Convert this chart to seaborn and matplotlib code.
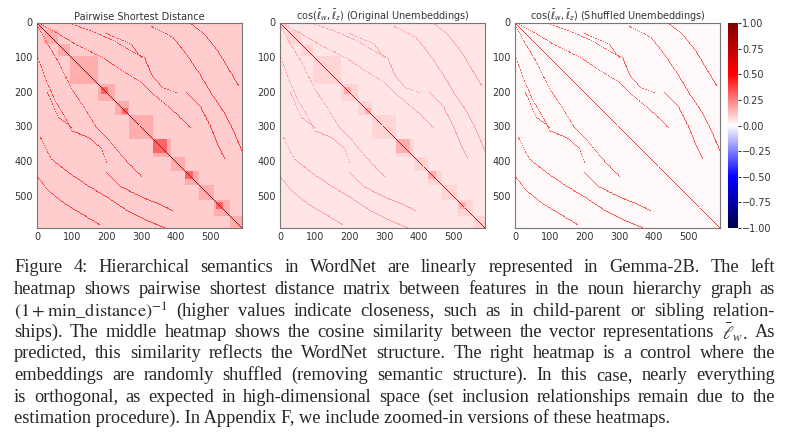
import numpy as np
import matplotlib
matplotlib.use("Agg")
import matplotlib.pyplot as plt
import seaborn as sns

n_feat = 590
group_edges = [0, 20, 60, 95, 175, 225, 265, 335, 385, 425, 465, 510, 555, 590]
# tighter sub-groups that show as darker squares on the diagonal
sub_groups = [(185, 205), (245, 262), (335, 375), (425, 450), (515, 535)]
# parent/child traces, (row, col) points in the upper triangle
traces = [
    [(0, 5), (30, 60), (60, 110), (100, 190), (140, 250), (170, 300), (200, 330), (260, 400), (300, 440)],
    [(0, 90), (20, 150), (50, 220), (80, 270), (100, 310), (150, 330), (185, 360), (200, 400)],
    [(10, 330), (40, 390), (90, 430), (150, 470), (200, 500), (260, 540), (320, 570), (370, 590)],
    [(0, 440), (30, 480), (80, 520), (130, 550), (180, 580)],
    [(200, 430), (240, 470), (300, 500), (350, 520), (390, 540)],
    [(30, 200), (60, 270), (100, 300)],
]

S = np.full((n_feat, n_feat), 0.1)
for a, b in zip(group_edges[:-1], group_edges[1:]):
    S[a:b, a:b] = 0.16
for a, b in sub_groups:
    S[a:b, a:b] = 0.3
T = np.zeros_like(S)
for tr in traces:
    for (r0, c0), (r1, c1) in zip(tr[:-1], tr[1:]):
        steps = max(abs(r1 - r0), abs(c1 - c0))
        rr = np.linspace(r0, r1, steps + 1).round().astype(int)
        cc = np.linspace(c0, c1, steps + 1).round().astype(int)
        for d in (-1, 0, 1):
            c2 = (cc + d).clip(0, n_feat - 1)
            r2 = rr.clip(0, n_feat - 1)
            T[r2, c2] = 1
            T[c2, r2] = 1
S = np.maximum(S, 0.38 * T)
np.fill_diagonal(S, 0.8)

orig = np.clip(0.5 * (S - 0.1), 0, None) + 0.05
np.fill_diagonal(orig, 0.6)
shuf = 0.015 + 0.3 * T
np.fill_diagonal(shuf, 0.4)

sns.set_style("white")
plt.rcParams["mathtext.fontset"] = "dejavusans"
fig = plt.figure(figsize=(7.88, 4.37), dpi=100)
W, H = 788, 437
def rect(x0, y0, x1, y1):
    return [x0 / W, 1 - y1 / H, (x1 - x0) / W, (y1 - y0) / H]

axes = [fig.add_axes(rect(37, 23, 242, 228)),
        fig.add_axes(rect(280, 23, 485, 228)),
        fig.add_axes(rect(515, 23, 720, 228))]
cax = fig.add_axes(rect(728, 23, 738, 228))
titles = ["Pairwise Shortest Distance",
          r"cos($\bar{\ell}_w, \bar{\ell}_z$) (Original Unembeddings)",
          r"cos($\bar{\ell}_w, \bar{\ell}_z$) (Shuffled Unembeddings)"]
for i, (ax, M, t) in enumerate(zip(axes, [S, orig, shuf], titles)):
    sns.heatmap(M, ax=ax, cmap="seismic", vmin=-1, vmax=1,
                xticklabels=100, yticklabels=100, cbar=(i == 2),
                cbar_ax=cax if i == 2 else None, rasterized=True)
    ax.set_title(t, fontsize=7, pad=2, color="#333333")
    ax.tick_params(labelsize=7, length=2, colors="#333333", pad=1)
    ax.tick_params(axis="x", rotation=0)
    ax.tick_params(axis="y", rotation=0)
    for sp in ax.spines.values():
        sp.set_visible(True)
        sp.set_color("#777777")
cax.tick_params(labelsize=7, length=2, colors="#333333", pad=1)
cax.set_yticks([-1, -0.75, -0.5, -0.25, 0, 0.25, 0.5, 0.75, 1])
cax.set_yticklabels(["\u22121.00", "\u22120.75", "\u22120.50", "\u22120.25", "0.00",
                     "0.25", "0.50", "0.75", "1.00"])

caption = [
    "Figure 4: Hierarchical semantics in WordNet are linearly represented in Gemma-2B. The left",
    "heatmap shows pairwise shortest distance matrix between features in the noun hierarchy graph as",
    r"$(1+\mathrm{min\_distance})^{-1}$ (higher values indicate closeness, such as in child-parent or sibling relation-",
    r"ships). The middle heatmap shows the cosine similarity between the vector representations $\bar{\ell}_w$. As",
    "predicted, this similarity reflects the WordNet structure. The right heatmap is a control where the",
    "embeddings are randomly shuffled (removing semantic structure). In this case, nearly everything",
    "is orthogonal, as expected in high-dimensional space (set inclusion relationships remain due to the",
    "estimation procedure). In Appendix F, we include zoomed-in versions of these heatmaps.",
]
plt.rcParams["mathtext.fontset"] = "stix"
renderer = fig.canvas.get_renderer()
x_left, x_right = 14, 775
for k, line in enumerate(caption):
    y = 1 - (268 + k * 21.5) / H
    words = line.split(" ")
    if k == len(caption) - 1:
        words = [line]
    arts = [fig.text(0, y, w, fontsize=13.2, family="Liberation Serif",
                     va="center", ha="left") for w in words]
    widths = [a.get_window_extent(renderer).width for a in arts]
    gap = (x_right - x_left - sum(widths)) / max(len(words) - 1, 1)
    x = x_left
    for a, w in zip(arts, widths):
        a.set_x(x / W)
        x += w + gap

fig.savefig("out.png", dpi=100)
